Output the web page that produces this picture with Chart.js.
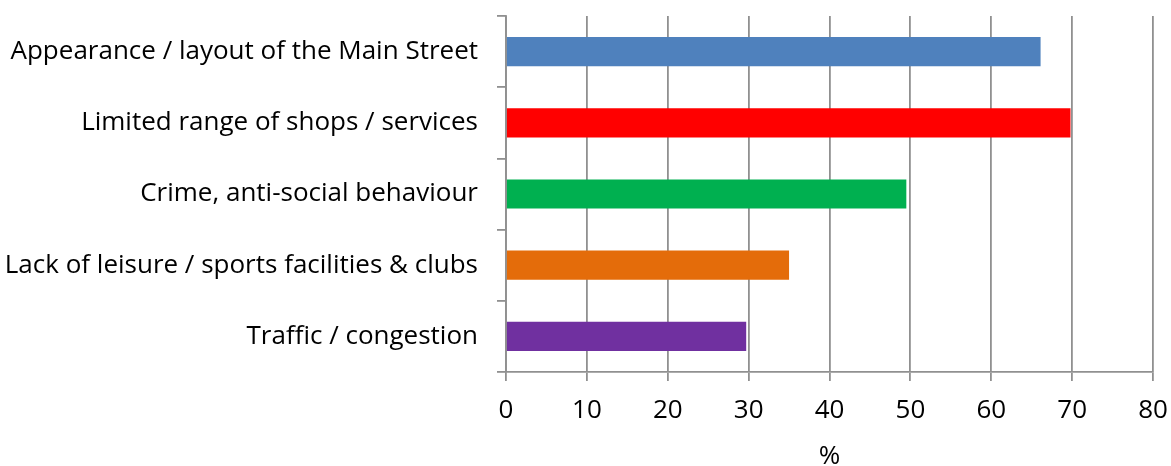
<!DOCTYPE html>
<html>
<head>
<meta charset="utf-8">
<script src="https://cdn.jsdelivr.net/npm/chart.js@4/dist/chart.umd.min.js"></script>
<style>
  html, body { margin: 0; padding: 0; background: #fff; }
  #wrap { width: 1171px; height: 466px; }
</style>
</head>
<body>
<div id="wrap"><canvas id="issuesChart"></canvas></div>
<script>
const categories = [
  "Appearance / layout of the Main Street",
  "Limited range of shops / services",
  "Crime, anti-social behaviour",
  "Lack of leisure / sports facilities & clubs",
  "Traffic / congestion"
];
const percentages = [66.1, 69.8, 49.5, 35.0, 29.7];
const barColors = ["#4F81BD", "#FF0000", "#00B050", "#E46C0A", "#7030A0"];
const xTicks = [0, 10, 20, 30, 40, 50, 60, 70, 80];

const gridGrey = "#909090";
const font = { family: "'Open Sans', sans-serif", size: 26 };

new Chart(document.getElementById("issuesChart"), {
  type: "bar",
  data: {
    labels: categories,
    datasets: [{
      data: percentages,
      backgroundColor: barColors,
      barPercentage: 0.41,
      categoryPercentage: 1
    }]
  },
  options: {
    indexAxis: "y",
    responsive: true,
    maintainAspectRatio: false,
    animation: false,
    layout: { padding: { top: 16, right: 18, left: 0, bottom: 0 } },
    plugins: {
      legend: { display: false },
      tooltip: { enabled: false }
    },
    scales: {
      x: {
        min: 0,
        max: 80,
        afterBuildTicks: scale => { scale.ticks = xTicks.map(v => ({ value: v })); },
        afterFit: scale => {
          // keep the end labels from shrinking the plot area
          scale.height = 94;
          scale.paddingLeft = 0;
          scale.paddingRight = 0;
        },
        grid: { color: gridGrey, lineWidth: 1.8, tickLength: 9, drawTicks: true },
        border: { color: gridGrey, width: 1.8 },
        ticks: { color: "#000", font: font, padding: 14, maxRotation: 0 },
        title: { display: true, text: "%", color: "#000", font: font, padding: { top: 0, bottom: -6 } }
      },
      y: {
        afterFit: scale => {
          scale.width = 506;
          scale.paddingTop = 0;
          scale.paddingBottom = 0;
        },
        grid: { color: gridGrey, lineWidth: 1.8, tickLength: 9, drawOnChartArea: false, offset: true },
        border: { color: gridGrey, width: 1.8 },
        ticks: { color: "#000", font: font, padding: 19 }
      }
    }
  }
});
</script>
</body>
</html>
